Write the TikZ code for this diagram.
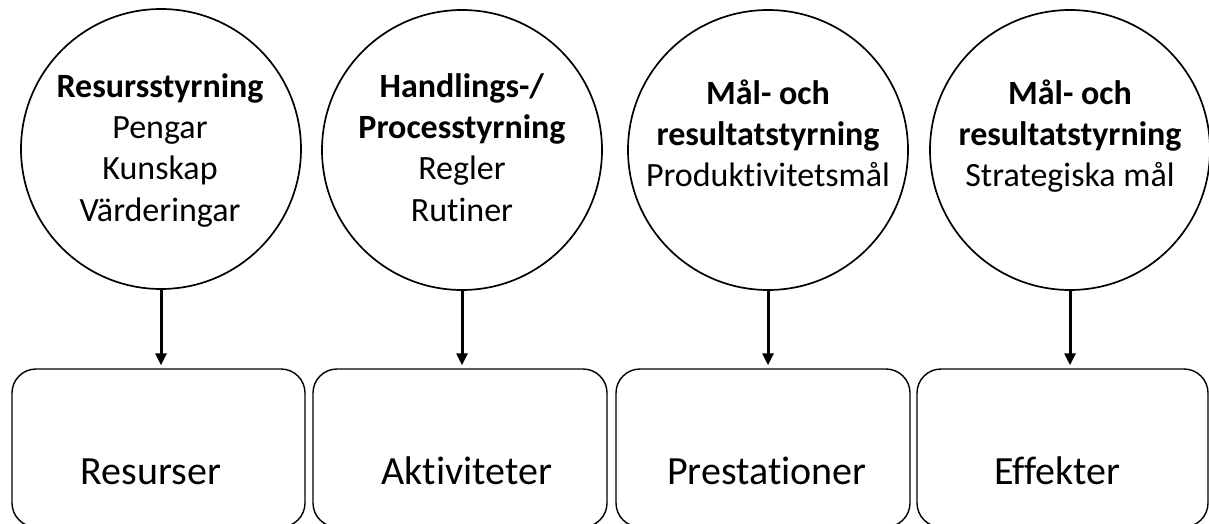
\documentclass[tikz,border=0pt]{standalone}
\usepackage{fontspec}
\setmainfont{Carlito}[Ligatures=NoCommon]
\usetikzlibrary{arrows.meta}
\begin{document}
\begin{tikzpicture}[x=1pt,y=-1pt,
  ring/.style={draw, line width=1.7pt, circle, minimum size=280pt, inner sep=0pt},
  ringtext/.style={anchor=north, align=center, inner sep=0pt,
    font=\fontsize{34}{41.3}\selectfont},
  stage/.style={draw, line width=1.4pt, rounded corners=24pt,
    minimum height=158pt, inner sep=0pt},
  stagetext/.style={anchor=base, inner sep=0pt, font=\fontsize{40}{48}\selectfont},
  flow/.style={line width=3pt, -{Triangle[length=12pt,width=11pt]}, shorten >=3pt}]
\useasboundingbox (0,0) rectangle (1209,524);
\clip (0,0) rectangle (1209,524);

% steering forms
\node[ring] (c1) at (161,149) {};
\node[ring] (c2) at (462,150) {};
\node[ring] (c3) at (768,150) {};
\node[ring] (c4) at (1070,150) {};

\node[ringtext] (l1) at (160,69)
  {\rule{0pt}{28pt}\textbf{Resursstyrning}\\Pengar\\Kunskap\\Värderingar};
\node[ringtext] (l2) at (462,69)
  {\rule{0pt}{28pt}\textbf{Handlings-/}\\\textbf{Processtyrning}\\Regler\\Rutiner};
\node[ringtext] (l3) at (768,76)
  {\rule{0pt}{28pt}\textbf{Mål- och}\\\textbf{resultatstyrning}\\Produktivitetsmål};
\node[ringtext] (l4) at (1070,76)
  {\rule{0pt}{28pt}\textbf{Mål- och}\\\textbf{resultatstyrning}\\Strategiska mål};

% chain of stages
\node[stage, minimum width=293pt] (b1) at (158.5,448) {};
\node[stage, minimum width=294pt] (b2) at (460,448) {};
\node[stage, minimum width=294pt] (b3) at (763,448) {};
\node[stage, minimum width=291pt] (b4) at (1062.5,448) {};

\node[stagetext] (t1) at (151,484) {Resurser};
\node[stagetext] (t2) at (467,484) {Aktiviteter};
\node[stagetext] (t3) at (767,484) {Prestationer};
\node[stagetext] (t4) at (1057,484) {Effekter};

% arrows from each steering form to its stage
\foreach \i in {1,...,4}
  \draw[flow] (c\i.south) -- (c\i.south |- b\i.north);
\end{tikzpicture}
\end{document}
